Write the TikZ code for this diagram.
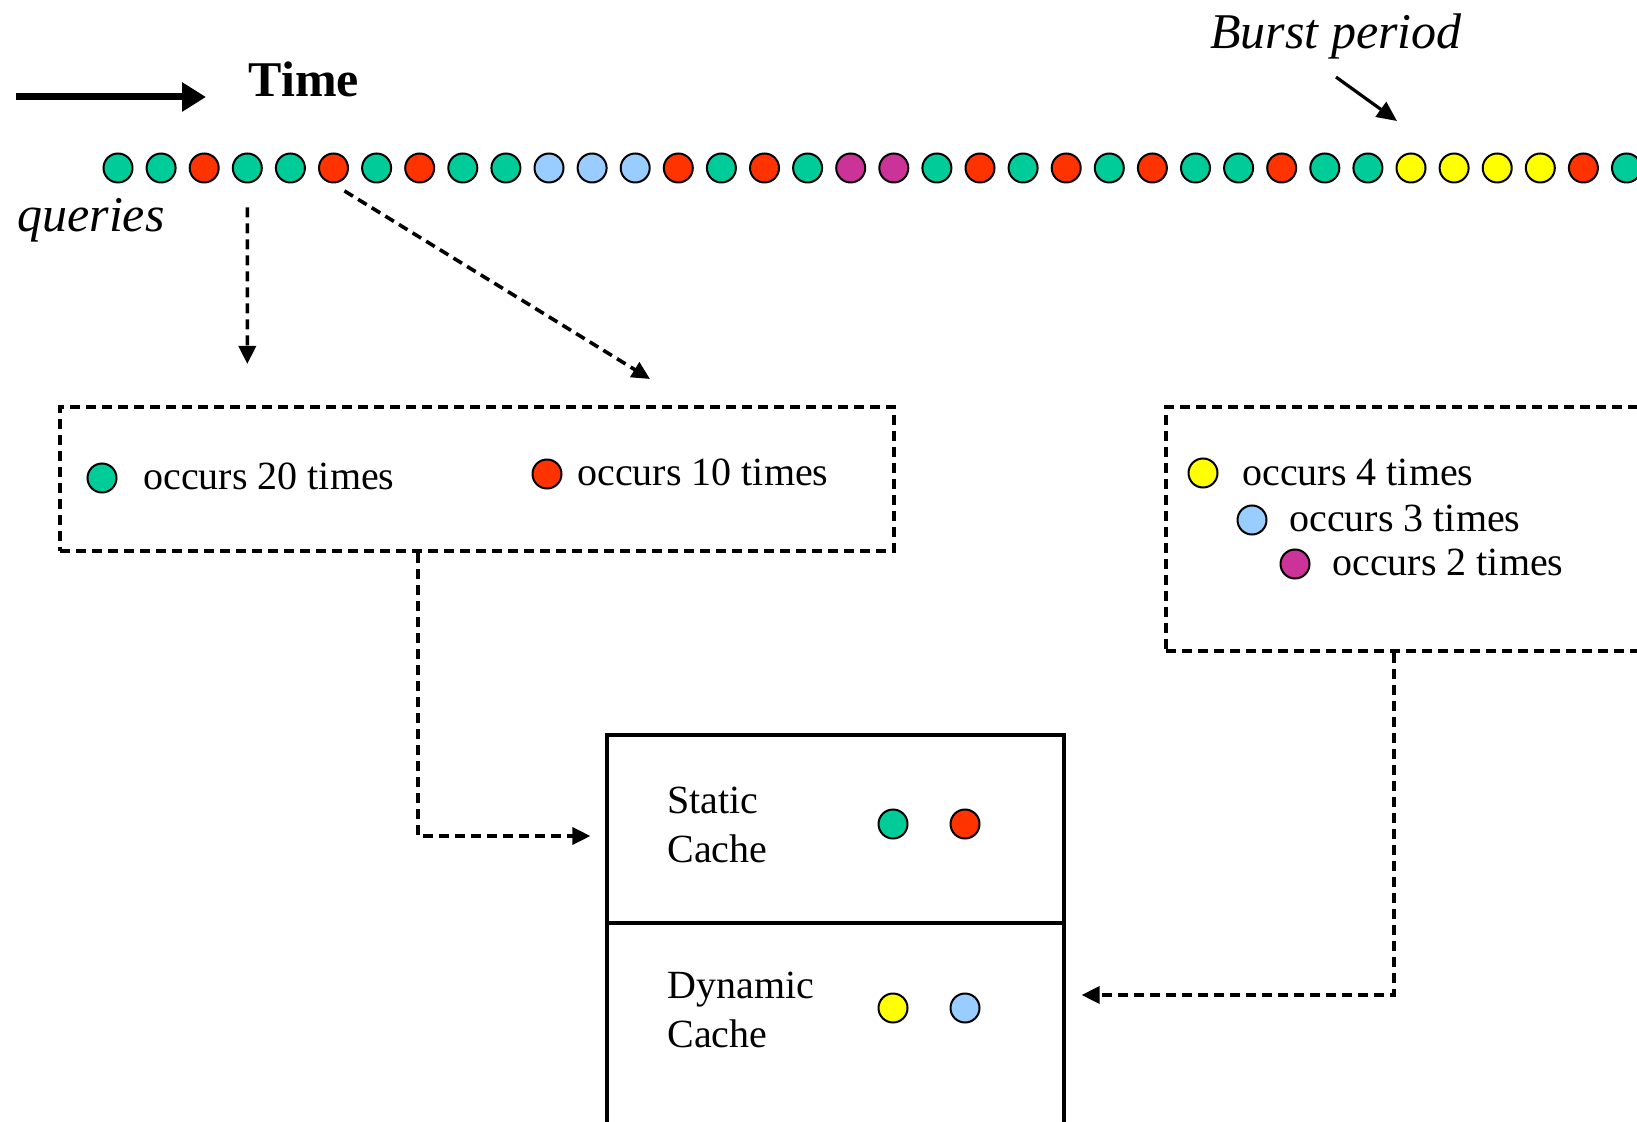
\documentclass[tikz,border=0pt]{standalone}
\usepackage{fontspec}
\setmainfont{Liberation Serif}
\usetikzlibrary{arrows.meta,calc}
\definecolor{qG}{HTML}{00CC99}
\definecolor{qR}{HTML}{FF3300}
\definecolor{qB}{HTML}{99CCFF}
\definecolor{qM}{HTML}{CC3399}
\definecolor{qY}{HTML}{FFFF00}
\begin{document}
\begin{tikzpicture}[x=0.5pt,y=-0.5pt,
  dot/.style={circle,draw=black,line width=1pt,minimum size=14.5pt,inner sep=0pt},
  lbl/.style={font=\fontsize{20}{24}\selectfont,anchor=west,inner sep=0pt},
  cachelbl/.style={font=\fontsize{20}{24.5}\selectfont,anchor=west,inner sep=0pt,align=left},
  bigit/.style={font=\fontsize{25}{30}\selectfont\itshape,inner sep=0pt},
  dashbox/.style={draw,line width=1.8pt,dash pattern=on 5pt off 3pt,inner sep=0pt},
  cachebox/.style={draw,line width=1.6pt,inner sep=0pt,minimum width=228.5pt},
  dasharrow/.style={line width=1.8pt,dash pattern=on 5pt off 3pt,-{Triangle[length=9pt,width=8.5pt]}},
]
\clip (0,0) rectangle (1637,1122);
\fill[white] (0,0) rectangle (1637,1122);

% time axis
\node[font=\fontsize{25}{30}\selectfont\bfseries,inner sep=0pt] (time) at (304,79) {Time};
\coordinate (tstart) at (16,97);
\coordinate (tend) at (206,97);
\draw[line width=3.5pt,-{Triangle[length=12pt,width=14pt]}] (tstart) -- (tend);

\node[bigit,anchor=west] (queries) at (17,220) {queries};
\node[bigit] (burst) at (1336,36) {Burst period};

% query stream
\foreach \c [count=\i] in {G,G,R,G,G,R,G,R,G,G,B,B,B,R,G,R,G,M,M,G,R,G,R,G,R,G,G,R,G,G,Y,Y,Y,Y,R,G}
  \node[dot,fill=q\c] (q\i) at ({118+43.1*(\i-1)},168) {};

\coordinate (burstend) at (1397,121);
\draw[line width=1.6pt,-{Triangle[length=10pt,width=9pt]}] ([yshift=-9pt]burst.south) -- (burstend);

% frequency boxes
\node[dashbox,minimum width=417pt,minimum height=72pt] (lbox) at (477,479) {};
\node[dashbox,minimum width=277pt,minimum height=122pt] (rbox) at (1443,529) {};

\coordinate (a1) at (247.3,364);
\coordinate (a2) at (650,379);
\draw[dasharrow] ([yshift=-12pt]q4.south) -- (a1);
\draw[dasharrow] ([yshift=-6pt]q6.south east) -- (a2);

\node[dot,fill=qG] (lg) at (102,478) {};
\node[lbl] (lgt) at (143,476) {occurs 20 times};
\node[dot,fill=qR] (lr) at (547,474) {};
\node[lbl] (lrt) at (577,472) {occurs 10 times};

\node[dot,fill=qY] (ry) at (1203,473) {};
\node[lbl] (ryt) at (1242,472) {occurs 4 times};
\node[dot,fill=qB] (rb) at (1252,520) {};
\node[lbl] (rbt) at (1289,518) {occurs 3 times};
\node[dot,fill=qM] (rm) at (1295,564) {};
\node[lbl] (rmt) at (1332,562) {occurs 2 times};

% cache
\node[cachebox,minimum height=94pt] (static) at (835.5,829) {};
\node[cachebox,minimum height=108.5pt] (dyn) at (835.5,1031.5) {};
\node[cachelbl] (st) at (667,825) {Static\\Cache};
\node[cachelbl] (dt) at (667,1010) {Dynamic\\Cache};
\node[dot,fill=qG] (sg) at (893,824) {};
\node[dot,fill=qR] (sr) at (965,824) {};
\node[dot,fill=qY] (dy) at (893,1008) {};
\node[dot,fill=qB] (db) at (965,1008) {};

\draw[dasharrow] (lbox.south west) ++(360,0) |- ([xshift=-7.5pt,yshift=-3.5pt]static.west);
\draw[dasharrow] (rbox.south west) ++(230,0) |- ([xshift=8pt,yshift=18.25pt]dyn.east);
\end{tikzpicture}
\end{document}
